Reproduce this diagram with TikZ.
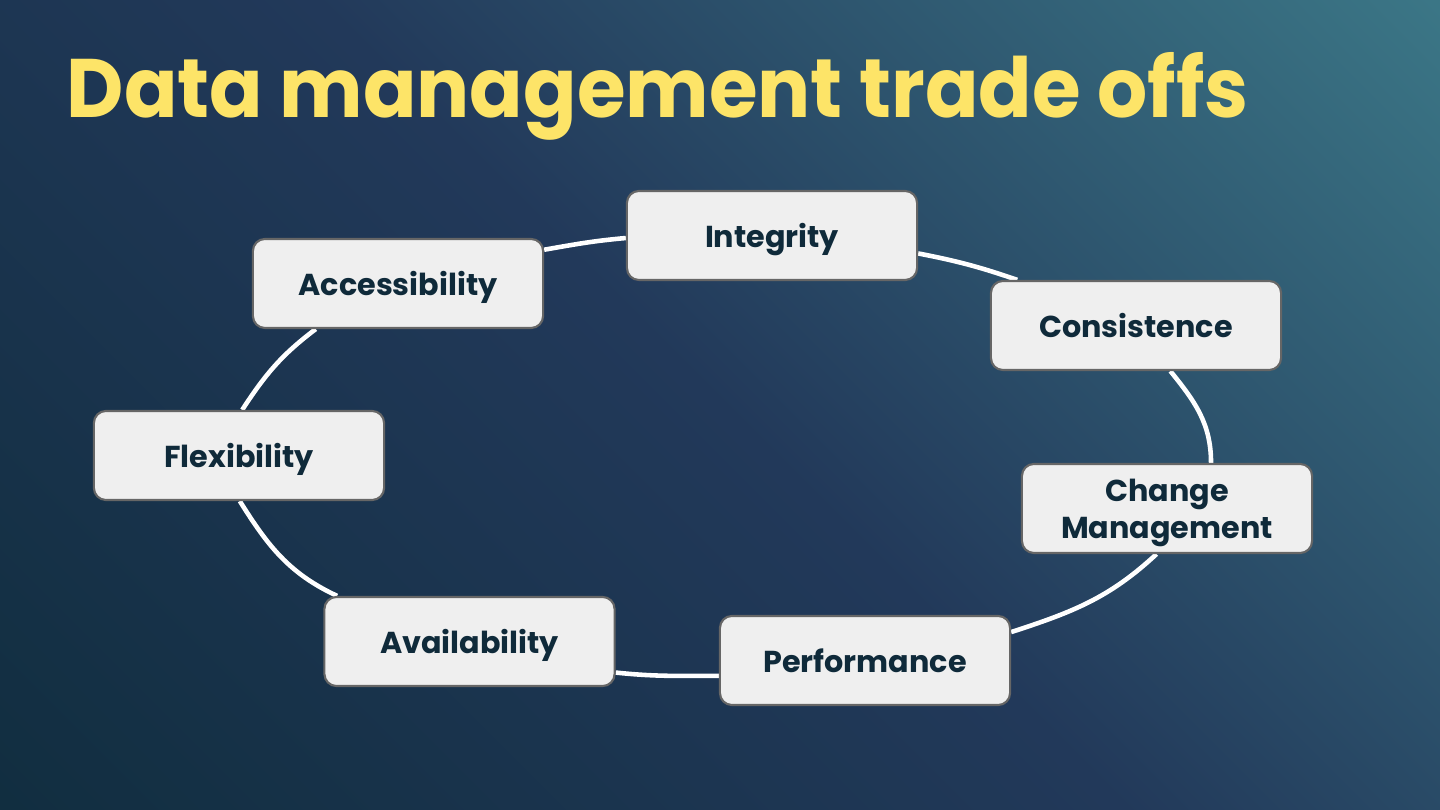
\documentclass[tikz,border=0pt]{standalone}
\usepackage{fontspec}
\setmainfont{Poppins}
\newfontfamily\headfont{Poppins}[FakeStretch=0.95]
\usetikzlibrary{backgrounds}
\definecolor{slidedark}{HTML}{112E40}
\definecolor{slidenavy}{HTML}{22395A}
\definecolor{slideteal}{HTML}{3B7686}
\definecolor{slideyellow}{HTML}{FDE468}
\definecolor{boxfill}{HTML}{EFEFEF}
\definecolor{boxline}{HTML}{666666}
\definecolor{boxink}{HTML}{0F2A3A}

\begin{document}
\begin{tikzpicture}[
  x=0.01cm,
  y=0.01cm,
  title/.style={font=\headfont\fontsize{23.6}{28}\selectfont\bfseries, slideyellow, inner sep=0pt},
  tradebox/.style={draw=boxline, line width=0.6pt, fill=boxfill, rounded corners=0.12cm,
    minimum width=2.9cm, minimum height=0.89cm, inner sep=2pt, align=center,
    text depth=0pt, font=\fontsize{8.6}{10.5}\selectfont\bfseries, text=boxink},
  ring/.style={white, line width=1.3pt}
]
  % ---- slide background (45 degree gradient, clipped to the slide) ----
  \useasboundingbox (0,0) rectangle (1440,810);
  \begin{scope}[on background layer]
    \clip (0,0) rectangle (1440,810);
    \shade[bottom color=slidedark, top color=slideteal, middle color=slidenavy, shading angle=-45]
      (-75,-390) rectangle (1515,1200);
  \end{scope}

  % ---- title ----
  \node[title, anchor=base west] (head) at (66,692) {Data management trade offs};

  % ---- trade-off boxes ----
  \node[tradebox] (integ)  at (772,574.5)   {Integrity};
  \node[tradebox] (access) at (398,526.5)   {Accessibility};
  \node[tradebox] (consis) at (1136,484.5)  {Consistence};
  \node[tradebox] (flex)   at (239,354.5)   {Flexibility};
  \node[tradebox] (change) at (1167,301.5)  {Change\\Management};
  \node[tradebox] (avail)  at (469.5,168.5) {Availability};
  \node[tradebox] (perf)   at (865,149.5)   {Performance};

  % ---- ring of connectors, behind the boxes ----
  \begin{scope}[on background layer]
    \draw[ring] (access.13)  to[out=10, in=185]  (integ.181);
    \draw[ring] (integ.-7)   to[out=-11, in=161] (consis.159);
    \draw[ring] (consis.-53) to[out=-51, in=90]  (change.46);
    \draw[ring] (change.257) to[out=223, in=18]  (perf.11);
    \draw[ring] (perf.186)   to[out=180, in=-6]  (avail.-12);
    \draw[ring] (avail.161)  to[out=155, in=-58] (flex.-89);
    \draw[ring] (flex.86)    to[out=57, in=217]  (access.209);
  \end{scope}
\end{tikzpicture}
\end{document}
